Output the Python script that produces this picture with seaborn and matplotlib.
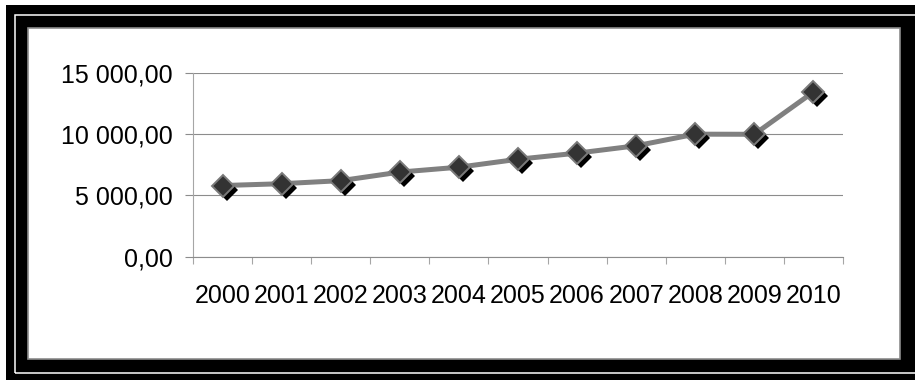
import numpy as np
import pandas as pd
import matplotlib
matplotlib.use("Agg")
import matplotlib.pyplot as plt
import matplotlib.transforms as mtransforms
from matplotlib.patches import Rectangle
from matplotlib.ticker import FuncFormatter
import seaborn as sns

# Yearly series
years = ["2000", "2001", "2002", "2003", "2004", "2005",
         "2006", "2007", "2008", "2009", "2010"]
values = [5800, 5950, 6200, 6900, 7300, 7950, 8450, 9050, 10000, 9990, 13450]
y_ticks = [0, 5000, 10000, 15000]

sns.set_theme(style="white")
plt.rcParams["font.family"] = ["Liberation Sans", "DejaVu Sans"]

W, H = 915, 380
fig = plt.figure(figsize=(W / 100, H / 100), dpi=100)
fig.patch.set_facecolor("white")


def frame_rect(x0, y0, x1, y1, **kw):
    """Rectangle given in pixel units measured from the top-left corner."""
    r = Rectangle((x0 / W, 1 - y1 / H), (x1 - x0) / W, (y1 - y0) / H,
                  transform=fig.transFigure, **kw)
    fig.add_artist(r)
    return r


# Double black border with a thin white rule, then the white chart panel
frame_rect(6, 5, 940, 390, facecolor="black", edgecolor="none", zorder=-5)
frame_rect(15, 15, 940, 372.5, fill=False, edgecolor="white", linewidth=1.1, zorder=-4)
frame_rect(27.5, 27.5, 899.5, 358.5, facecolor="white", edgecolor="#8c8c8c",
           linewidth=1.2, zorder=-3)

ax = fig.add_axes([193 / W, 1 - 256.5 / H, (843 - 193) / W, (256.5 - 73) / H])
ax.set_facecolor("none")

df = pd.DataFrame({"pos": np.arange(len(years)), "value": values})

# Connecting line
sns.lineplot(data=df, x="pos", y="value", ax=ax, color="#808080",
             linewidth=3.6, errorbar=None, zorder=2)

# Drop shadow under each marker
shadow = mtransforms.offset_copy(ax.transData, fig=fig, x=4, y=-4, units="dots")
sns.lineplot(data=df, x="pos", y="value", ax=ax, linestyle="none", marker="D",
             markersize=11, color="black", markerfacecolor="black",
             markeredgecolor="black", markeredgewidth=0, errorbar=None,
             transform=shadow, zorder=3, clip_on=False)

# Diamond markers
sns.lineplot(data=df, x="pos", y="value", ax=ax, linestyle="none", marker="D",
             markersize=11, color="#333333", markerfacecolor="#333333",
             markeredgecolor="#7a7a7a", markeredgewidth=1.4, errorbar=None,
             zorder=4, clip_on=False)

ax.set_xlim(-0.5, len(years) - 0.5)
ax.set_ylim(y_ticks[0], y_ticks[-1])

# Category boundaries carry tick marks; labels sit at category centres
ax.set_xticks(np.arange(-0.5, len(years), 1.0))
ax.set_xticklabels([])
ax.set_xticks(np.arange(len(years)), minor=True)
ax.set_xticklabels(years, minor=True)
ax.tick_params(axis="x", which="major", bottom=True, length=5, width=0.8,
               color="#a6a6a6")
ax.tick_params(axis="x", which="minor", bottom=True, length=0, pad=19.5,
               labelsize=18, labelcolor="black")

ax.set_yticks(y_ticks)
ax.yaxis.set_major_formatter(
    FuncFormatter(lambda v, _: f"{v:,.2f}".replace(",", " ").replace(".", ",")))
ax.tick_params(axis="y", which="major", left=True, length=5.8, width=0.8,
               color="#8c8c8c", pad=8.6, labelsize=18, labelcolor="black")

ax.yaxis.grid(True, color="#8c8c8c", linewidth=0.8)
ax.xaxis.grid(False)
ax.set_axisbelow(True)

for side in ("top", "right"):
    ax.spines[side].set_visible(False)
ax.spines["left"].set_color("#a6a6a6")
ax.spines["left"].set_linewidth(0.8)
ax.spines["bottom"].set_color("#8c8c8c")
ax.spines["bottom"].set_linewidth(0.8)

ax.set_xlabel("")
ax.set_ylabel("")

fig.savefig("out.png", dpi=100)
